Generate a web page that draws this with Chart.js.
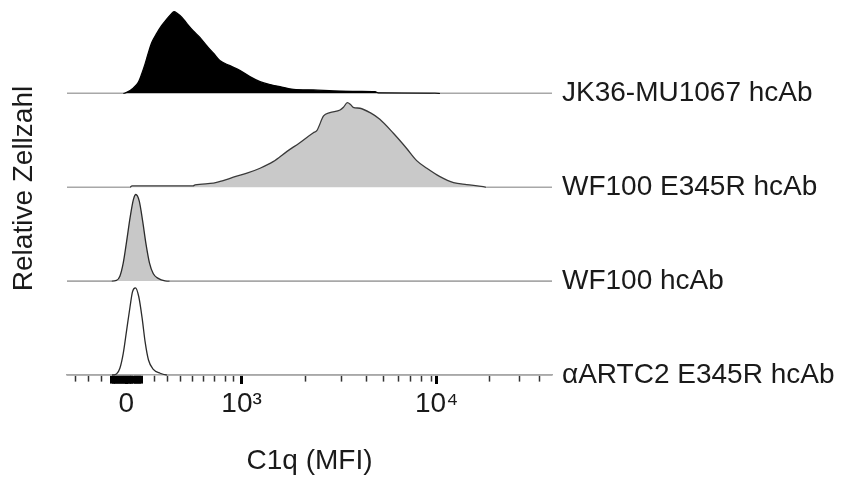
<!DOCTYPE html>
<html>
<head>
<meta charset="utf-8">
<script src="https://cdn.jsdelivr.net/npm/chart.js@4.4.0/dist/chart.umd.min.js"></script>
<style>
  html, body { margin: 0; padding: 0; background: #fff; }
  #wrap { width: 850px; height: 479px; }
</style>
</head>
<body>
<div id="wrap"><canvas id="chart"></canvas></div>
<script>
// lanes, bottom to top
const samples = ["\u03B1ARTC2 E345R hcAb", "WF100 hcAb", "WF100 E345R hcAb", "JK36-MU1067 hcAb"];
const laneOffset = [0, 108, 216, 324];
const yMax = 429;

// histograms: display channel (0-1000, biex scale) and relative count (% of mode)
const artcCh  = [0, 93, 102, 109, 116, 123, 130, 135, 141, 148, 155, 161, 168, 178, 192, 206, 1000];
const artcVal = [0, 0, 1.1, 7.7, 24.9, 51.7, 78.5, 95.7, 100.3, 90.0, 65.1, 38.3, 17.2, 6.5, 2.0, 0, 0];

const wfCh  = [0, 92, 102, 109, 116, 123, 130, 137, 142, 149, 156, 163, 170, 178, 188, 202, 212, 1000];
const wfVal = [0, 0, 0.8, 5.7, 21.0, 46.0, 72.7, 93.9, 99.6, 91.9, 68.9, 42.2, 21.0, 8.4, 3.1, 0.3, 0, 0];

const wfRCh  = [0, 130, 134, 260, 264, 302, 322, 343, 371, 398, 425, 453, 480, 508, 515, 529, 542, 563,
                570, 578, 585, 590, 604, 625, 645, 673, 700, 721, 742, 769, 797, 824, 858, 864, 1000];
const wfRVal = [0, 0, 1.5, 1.5, 2.6, 4.6, 7.6, 11.5, 16.1, 21.8, 29.4, 40.9, 51.2, 62.7, 65.0, 81.9, 85.7, 88.8,
                91.9, 97.2, 94.8, 91.9, 90.8, 85.7, 78.1, 62.0, 44.8, 30.6, 21.8, 12.2, 5.3, 3.0, 0.7, 0, 0];

const jkCh  = [0, 116, 123, 137, 147, 154, 161, 168, 175, 185, 195, 206, 216, 221, 227, 237, 247, 260, 274,
               288, 302, 315, 336, 357, 377, 398, 419, 439, 467, 508, 549, 604, 635, 642, 748, 769, 1000];
const jkVal = [0, 0, 1.1, 6.2, 12.6, 22.3, 33.8, 47.1, 58.6, 68.9, 77.8, 85.5, 91.9, 93.9, 91.9, 87.3, 80.4, 72.0, 64.3,
               54.8, 46.0, 37.6, 31.8, 26.1, 19.2, 13.4, 10.0, 7.7, 4.6, 3.9, 2.8, 2.3, 2.0, 0.5, 0.3, 0, 0];

// x axis ticks (channel positions)
const labelTickCh = [122, 360, 762];
const tickLabels = ["0", "10\u00B3", "10\u2074"];
const zeroTickCh = [92, 95, 98, 101, 104, 107, 110, 113, 116, 119, 125, 128, 131, 134, 138, 141, 144, 147, 150, 153];
const minorTickCh = [17, 44, 71, 181, 207, 233, 258, 281, 305, 327, 344,
                     492, 565, 617, 652, 683, 709, 731, 751, 871, 933, 975];

Chart.defaults.font.family = "'Liberation Sans', Arial, sans-serif";
Chart.defaults.font.size = 28;
Chart.defaults.color = "#1a1a1a";

function lane(i, ch, val, fillColor, lineColor) {
  const base = laneOffset[i];
  const flat = (s) => s.p0.parsed.y - base < 0.05 && s.p1.parsed.y - base < 0.05;
  return {
    label: samples[i],
    data: ch.map((c, k) => ({ x: c, y: base + val[k] })),
    borderColor: lineColor,
    backgroundColor: fillColor || "rgba(0,0,0,0)",
    fill: fillColor ? { value: base } : false,
    borderWidth: 1.3,
    pointRadius: 0,
    cubicInterpolationMode: "monotone",
    clip: 6,
    segment: {
      borderColor: (s) => (flat(s) ? "#a8a8a8" : lineColor),
      borderWidth: (s) => (flat(s) ? 1.6 : 1.3),
    },
  };
}

const allTicks = [...minorTickCh, ...zeroTickCh, ...labelTickCh].sort((a, b) => a - b);
const isMajor = (v) => labelTickCh.includes(v);
const isZero = (v) => zeroTickCh.includes(v);

new Chart(document.getElementById("chart"), {
  type: "line",
  data: {
    datasets: [
      lane(0, artcCh, artcVal, null, "#2b2b2b"),
      lane(1, wfCh, wfVal, "#c8c8c8", "#2b2b2b"),
      lane(2, wfRCh, wfRVal, "#c9c9c9", "#3a3a3a"),
      lane(3, jkCh, jkVal, "#000000", "#000000"),
    ],
  },
  options: {
    responsive: true,
    maintainAspectRatio: false,
    animation: false,
    layout: { padding: { top: 2, left: 0, right: 0, bottom: 0 } },
    plugins: { legend: { display: false }, tooltip: { enabled: false } },
    scales: {
      x: {
        type: "linear",
        min: 0,
        max: 1000,
        afterBuildTicks: (s) => { s.ticks = allTicks.map((v) => ({ value: v })); },
        afterFit: (s) => { s.height = 104; s.paddingLeft = 0; s.paddingRight = 0; },
        ticks: {
          autoSkip: false,
          maxRotation: 0,
          padding: 3,
          callback: (v) => {
            const k = labelTickCh.indexOf(v);
            return k >= 0 ? tickLabels[k] : "";
          },
        },
        grid: {
          display: true,
          drawOnChartArea: false,
          drawTicks: true,
          tickLength: 9,
          tickColor: (c) => (isMajor(c.tick.value) || isZero(c.tick.value) ? "#000" : "#333"),
          tickWidth: (c) => (isMajor(c.tick.value) ? 3 : isZero(c.tick.value) ? 3 : 1.5),
          tickBorderDash: (c) => (isMajor(c.tick.value) ? [] : isZero(c.tick.value) ? [8, 30] : [6, 30]),
        },
        border: { display: true, color: "#a8a8a8", width: 1.6 },
        title: { display: true, text: "C1q (MFI)", padding: { top: 0, bottom: 1 } },
      },
      y: {
        type: "linear",
        position: "left",
        min: 0,
        max: yMax,
        afterFit: (s) => { s.width = 67; s.paddingTop = 0; s.paddingBottom = 0; },
        ticks: { display: false },
        grid: { display: false },
        border: { display: false },
        title: { display: true, text: "Relative Zellzahl", padding: { top: 7, bottom: 0 } },
      },
      y2: {
        type: "linear",
        position: "right",
        min: 0,
        max: yMax,
        afterBuildTicks: (s) => { s.ticks = laneOffset.map((v) => ({ value: v })); },
        afterFit: (s) => { s.width = 298; s.paddingTop = 0; s.paddingBottom = 0; },
        ticks: {
          padding: 10,
          autoSkip: false,
          callback: (v) => samples[laneOffset.indexOf(v)],
        },
        grid: { display: false, drawTicks: false },
        border: { display: false },
      },
    },
  },
});
</script>
</body>
</html>
